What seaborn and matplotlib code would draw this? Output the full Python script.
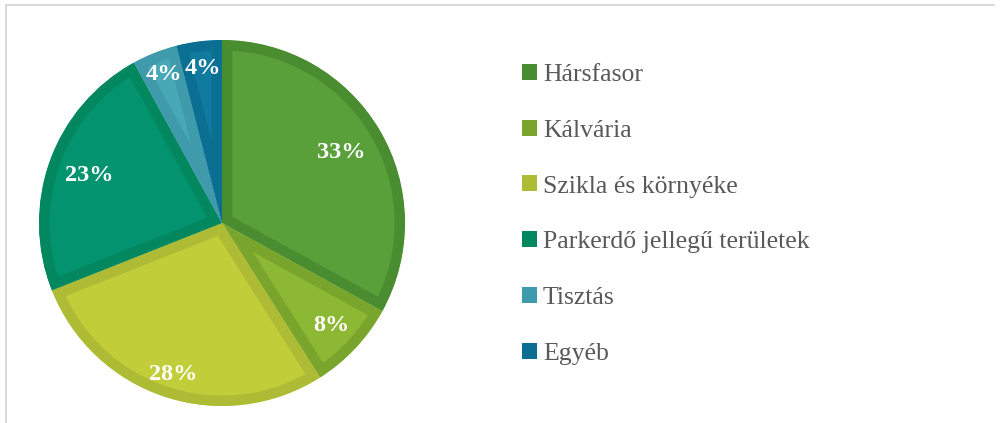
import numpy as np
import matplotlib
matplotlib.use('Agg')
import matplotlib.pyplot as plt
import seaborn as sns
from matplotlib.patches import Patch
from matplotlib.lines import Line2D

# Data
categories = ['Hársfasor', 'Kálvária', 'Szikla és környéke',
              'Parkerdő jellegű területek', 'Tisztás', 'Egyéb']
shares = [33, 8, 28, 23, 4, 4]

# Colours: slice fill and darker inner border / legend swatch
fill_colors = ['#59a03a', '#8cb834', '#c2cd3a', '#03946f', '#48a8b6', '#117b9f']
edge_colors = ['#4a8d30', '#79a52d', '#aebb34', '#02875f', '#3f9aab', '#0b6f94']
# radial placement of the percentage labels (as in the original)
label_dist = [0.76, 0.82, 0.87, 0.77, 0.87, 0.85]

sns.set_theme(style='white')
plt.rcParams['font.family'] = ['Liberation Serif', 'DejaVu Serif']

fig = plt.figure(figsize=(10.02, 4.23), dpi=100)

# pie axes: centre ~ (222, 223) px, radius ~ 183 px
cx, cy, r = 222, 223, 183
ax = fig.add_axes([(cx - r) / 1002, (423 - cy - r) / 423, 2 * r / 1002, 2 * r / 423])

wedges, texts, autotexts = ax.pie(
    shares, colors=fill_colors, startangle=90, counterclock=False,
    autopct='%.0f%%', pctdistance=0.8,
    textprops=dict(color='white', fontsize=17.5, fontweight='bold'),
    wedgeprops=dict(linewidth=15))

# darker border drawn inside each wedge only
for w, ec in zip(wedges, edge_colors):
    w.set_edgecolor(ec)
    w.set_clip_on(True)
    w.set_clip_path(w)

for t, d in zip(autotexts, label_dist):
    x, y = t.get_position()
    rr = np.hypot(x, y)
    t.set_position((x / rr * d, y / rr * d))

ax.set_xlim(-1, 1)
ax.set_ylim(-1, 1)
ax.set_aspect('equal')
ax.axis('off')

handles = [Patch(facecolor=c, edgecolor='none') for c in edge_colors]
leg = fig.legend(handles, categories, loc='upper left',
                 bbox_to_anchor=(522 / 1002, 1 - 64 / 423),
                 frameon=False, fontsize=18.5, labelcolor='#595959',
                 handlelength=0.58, handleheight=0.58, handletextpad=0.23,
                 labelspacing=1.31, borderpad=0, borderaxespad=0)

# light frame (top and left edges visible in the original)
fig.add_artist(Line2D([6 / 1002, 994 / 1002], [1 - 5 / 423, 1 - 5 / 423],
                      color='#d9d9d9', lw=1.5, transform=fig.transFigure))
fig.add_artist(Line2D([6 / 1002, 6 / 1002], [0, 1 - 5 / 423],
                      color='#d9d9d9', lw=1.5, transform=fig.transFigure))

fig.savefig('out.png', dpi=100, facecolor='white')
